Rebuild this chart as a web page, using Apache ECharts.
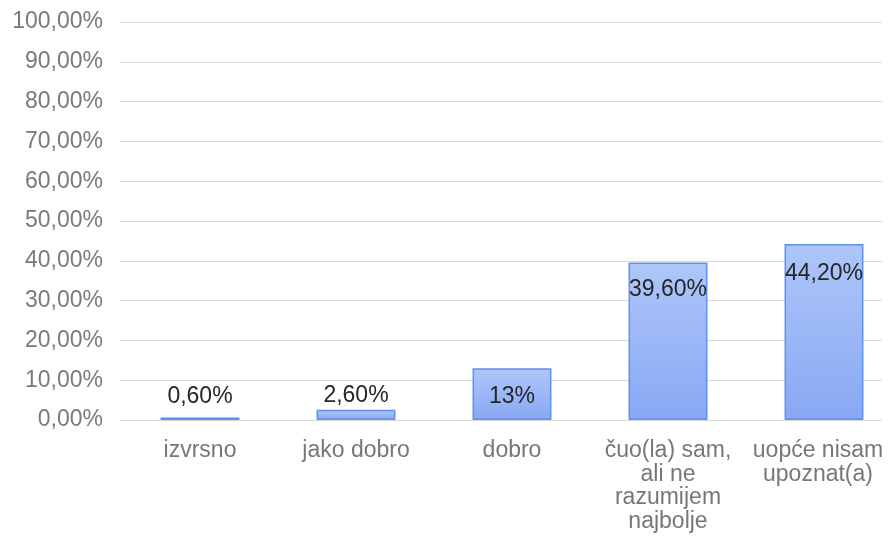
<!DOCTYPE html>
<html><head><meta charset="utf-8">
<script src="https://cdn.jsdelivr.net/npm/echarts@6/dist/echarts.min.js"></script>
<style>html,body{margin:0;padding:0;background:#fff;overflow:hidden}#c{width:910px;height:542px}</style>
</head><body><div id="c"></div>
<script>
var categories = ['izvrsno', 'jako dobro', 'dobro', 'čuo(la) sam,\nali ne\nrazumijem\nnajbolje', 'uopće nisam\nupoznat(a)'];
var values = [0.6, 2.6, 13, 39.6, 44.2];
var valueLabels = ['0,60%', '2,60%', '13%', '39,60%', '44,20%'];
var labelPlacement = ['top', 'top', 'insideTop', 'insideTop', 'insideTop'];
var labelDistance = [9, 2, 17, 16, 18];
var yTicks = [0, 10, 20, 30, 40, 50, 60, 70, 80, 90, 100];

var font = 'Liberation Sans, Arial, sans-serif';
var chart = echarts.init(document.getElementById('c'));
var data = values.map(function (v, i) {
  return {
    value: v,
    label: {
      position: labelPlacement[i],
      distance: labelDistance[i],
      formatter: valueLabels[i]
    }
  };
});
var catData = categories.map(function (c, i) {
  return i === categories.length - 1 ? { value: c, textStyle: { padding: [0, 12, 0, 0] } } : c;
});
chart.setOption({
  animation: false,
  grid: [
    { left: 120, width: 762, top: 22, bottom: 122 },
    { left: 122, width: 780, top: 22, bottom: 122 }
  ],
  xAxis: [
    { gridIndex: 0, type: 'category', data: categories, show: false },
    {
      gridIndex: 1, type: 'category', data: catData,
      axisLine: { show: false }, axisTick: { show: false },
      axisLabel: { color: '#777777', fontFamily: font, fontSize: 23, lineHeight: 23.5, margin: 19, interval: 0 }
    }
  ],
  yAxis: [
    {
      gridIndex: 0, type: 'value', min: 0, max: 100, interval: 10,
      axisLine: { show: false }, axisTick: { show: false },
      splitLine: { lineStyle: { color: '#d9d9d9', width: 1 } },
      axisLabel: {
        color: '#7a7a7a', fontFamily: font, fontSize: 23, margin: 17,
        formatter: function (v) { return yTicks.indexOf(v) >= 0 ? v.toFixed(2).replace('.', ',') + '%' : ''; }
      }
    },
    { gridIndex: 1, type: 'value', min: 0, max: 100, interval: 10, show: false, splitLine: { show: false } }
  ],
  series: [{
    type: 'bar', xAxisIndex: 1, yAxisIndex: 1,
    data: data,
    barWidth: '50.6%',
    itemStyle: {
      color: new echarts.graphic.LinearGradient(0, 0, 0, 1, [
        { offset: 0, color: '#aec6f9' },
        { offset: 1, color: '#88a8f4' }
      ]),
      borderColor: '#5f90ef',
      borderWidth: 1.5
    },
    label: { show: true, color: '#262626', fontFamily: font, fontSize: 23 }
  }]
});
</script></body></html>
